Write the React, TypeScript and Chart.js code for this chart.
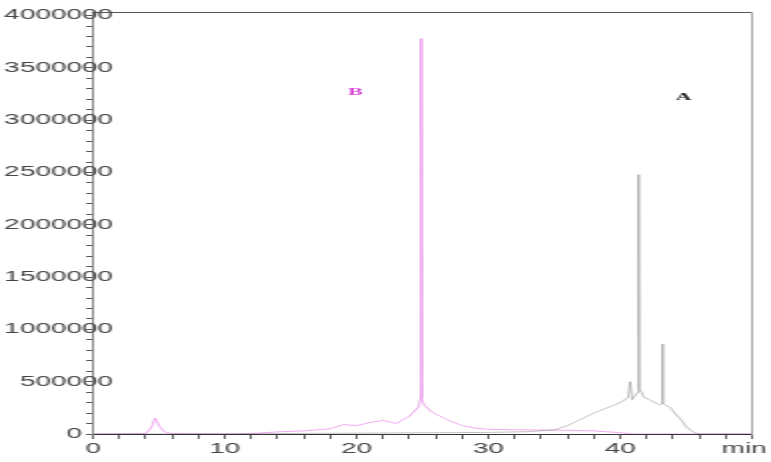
import { useEffect, useRef } from 'react';
import { Chart, registerables } from 'chart.js';

Chart.register(...registerables);

// Trace B (magenta)
const B_TIME = [0, 4.0, 4.4, 4.7, 5.0, 5.4, 6, 10, 12, 14, 16, 18, 19, 20, 21, 22, 23, 24, 24.7, 24.85, 24.9, 24.95, 25.1, 25.6, 26, 27, 28, 29, 30, 32, 34, 36, 38, 40, 41, 45, 50];
const B_VALUES = [0, 5000, 60000, 150000, 80000, 20000, 5000, 2000, 5000, 20000, 30000, 50000, 90000, 80000, 110000, 130000, 100000, 170000, 260000, 350000, 3780000, 330000, 280000, 220000, 190000, 130000, 80000, 55000, 45000, 40000, 38000, 35000, 30000, 12000, 0, 0, 0];

// Trace A (black / grey)
const A_TIME = [0, 5, 10, 15, 20, 25, 30, 33, 35, 36, 37, 38, 39, 40, 40.6, 40.75, 40.9, 41.2, 41.35, 41.4, 41.45, 41.6, 41.8, 42.2, 42.6, 43.0, 43.15, 43.2, 43.25, 43.4, 43.8, 44.2, 44.6, 45.0, 45.5, 46, 50];
const A_VALUES = [0, 0, 0, 5000, 8000, 12000, 15000, 22000, 40000, 80000, 140000, 200000, 250000, 300000, 350000, 500000, 330000, 380000, 400000, 2480000, 420000, 400000, 350000, 330000, 300000, 280000, 290000, 860000, 290000, 280000, 250000, 190000, 140000, 70000, 20000, 0, 0];

const X_LABELS = ['0', '10', '20', '30', '40', 'min'];
const Y_LABELS = ['0', '500000', '1000000', '1500000', '2000000', '2500000', '3000000', '3500000', '4000000'];
const Y_MINOR_STEP = 100000;
const Y_MAJOR_STEP = 500000;

const PEAK_LABELS = ['B', 'A'];
const PEAK_LABEL_TIME = [19.9, 44.8];
const PEAK_LABEL_VALUE = [3270000, 3220000];
const PEAK_LABEL_COLORS = ['#d63fd6', '#222222'];

const CANVAS_W = 386;
const CANVAS_H = 462;

const peakLabelPlugin = {
  id: 'peakLabels',
  afterDatasetsDraw(chart: any) {
    const { ctx, scales } = chart;
    const x = scales.x;
    const y = scales.y;
    ctx.save();
    ctx.font = 'bold 11px "Liberation Serif"';
    ctx.textAlign = 'center';
    ctx.textBaseline = 'middle';
    PEAK_LABELS.forEach((t, i) => {
      ctx.fillStyle = PEAK_LABEL_COLORS[i];
      ctx.fillText(t, x.getPixelForValue(PEAK_LABEL_TIME[i]), y.getPixelForValue(PEAK_LABEL_VALUE[i]));
    });
    ctx.restore();
  },
};

function zeroPad(scale: any) {
  scale.paddingLeft = 0;
  scale.paddingRight = 0;
  scale.paddingTop = 0;
  scale.paddingBottom = 0;
}

export default function App() {
  const ref = useRef<HTMLCanvasElement | null>(null);

  useEffect(() => {
    if (!ref.current) return;
    const tickFont = { family: '"Liberation Sans", Arial, sans-serif', size: 14 };
    const chart = new Chart(ref.current, {
      type: 'line',
      data: {
        datasets: [
          {
            label: 'A',
            data: A_TIME.map((t, i) => ({ x: t, y: A_VALUES[i] })),
            borderColor: 'rgba(100,100,100,0.4)',
            borderWidth: 1,
            pointRadius: 0,
            tension: 0,
            fill: false,
          },
          {
            label: 'B',
            data: B_TIME.map((t, i) => ({ x: t, y: B_VALUES[i] })),
            borderColor: 'rgba(225,100,225,0.55)',
            borderWidth: 1,
            pointRadius: 0,
            tension: 0,
            fill: false,
          },
        ],
      },
      options: {
        responsive: false,
        devicePixelRatio: 1,
        animation: false,
        layout: { padding: 0 },
        plugins: { legend: { display: false }, tooltip: { enabled: false } },
        scales: {
          x: {
            type: 'linear',
            position: 'bottom',
            min: 0,
            max: 50,
            ticks: {
              stepSize: 2,
              autoSkip: false,
              maxRotation: 0,
              minRotation: 0,
              includeBounds: false,
              padding: 2,
              color: '#444',
              font: tickFont,
              callback: (v: any) => {
                const n = Math.round(Number(v));
                if (n % 10 !== 0) return '';
                const lab = X_LABELS[n / 10];
                return lab === 'min' ? 'min  ' : lab;
              },
            },
            grid: { drawOnChartArea: false, tickLength: 5, tickColor: '#666' },
            border: { color: '#333', width: 1 },
            afterFit: (s: any) => {
              s.height = 28;
              zeroPad(s);
            },
          },
          y: {
            type: 'linear',
            position: 'left',
            min: 0,
            max: 4034000,
            ticks: {
              autoSkip: false,
              includeBounds: false,
              mirror: true,
              crossAlign: 'far',
              padding: -44.5,
              color: '#444',
              font: tickFont,
              callback: (v: any) => {
                const n = Math.round(Number(v));
                if (n % Y_MAJOR_STEP !== 0) return '';
                const lab = Y_LABELS[n / Y_MAJOR_STEP];
                return lab === '0' ? '0    ' : lab;
              },
            },
            afterBuildTicks: (s: any) => {
              const t: { value: number }[] = [];
              for (let v = 0; v <= s.max; v += Y_MINOR_STEP) t.push({ value: v });
              s.ticks = t;
            },
            grid: { drawOnChartArea: false, tickLength: 3.5, tickColor: '#555' },
            border: { color: '#888', width: 1 },
            afterFit: (s: any) => {
              s.width = 46.6;
              zeroPad(s);
            },
          },
          xTop: {
            type: 'linear',
            position: 'top',
            min: 0,
            max: 50,
            ticks: { display: false },
            grid: { drawOnChartArea: false, drawTicks: false },
            border: { color: '#555', width: 1 },
            afterFit: (s: any) => {
              s.height = 12;
              zeroPad(s);
            },
          },
          yRight: {
            type: 'linear',
            position: 'right',
            min: 0,
            max: 1,
            ticks: { display: false },
            grid: { drawOnChartArea: false, drawTicks: false },
            border: { color: '#aaa', width: 1 },
            afterFit: (s: any) => {
              s.width = CANVAS_W - 376.5;
              zeroPad(s);
            },
          },
        },
      } as any,
      plugins: [peakLabelPlugin],
    });
    return () => chart.destroy();
  }, []);

  return (
    <div style={{ position: 'fixed', left: 0, top: 0, width: 771, height: 462, background: '#fff' }}>
      <canvas
        ref={ref}
        width={CANVAS_W}
        height={CANVAS_H}
        style={{ width: '771px', height: '462px', display: 'block' }}
      />
    </div>
  );
}
